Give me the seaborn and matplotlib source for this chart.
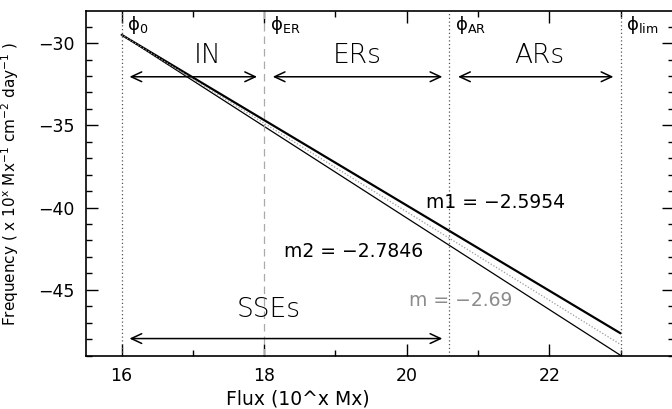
import numpy as np
import pandas as pd
import matplotlib
matplotlib.use('Agg')
import matplotlib.pyplot as plt
import seaborn as sns
import matplotlib.ticker as ticker

sns.set_style('ticks')
plt.rcParams['font.family'] = ['DejaVu Sans']
plt.rcParams['mathtext.default'] = 'regular'
for key in ['text.color', 'axes.labelcolor', 'xtick.color', 'ytick.color', 'axes.edgecolor']:
    plt.rcParams[key] = 'black'

# fitted lines, read at both ends (x = phi_0 and x = phi_lim)
flux_ends = [16.0, 23.0]
freq_m1 = [-29.5, -47.65]   # thick, m1
freq_m2 = [-29.5, -48.99]   # thin, m2
freq_m = [-29.5, -48.33]    # grey dotted, m

# flux limits
phi_names = [r'$\phi_0$', r'$\phi_{ER}$', r'$\phi_{AR}$', r'$\phi_{lim}$']
phi_vals = [16.0, 18.0, 20.6, 23.0]

# ranges shown with arrows
range_names = ['IN', 'ERs', 'ARs', 'SSEs']
range_lo = [16.11, 18.12, 20.72, 16.11]
range_hi = [17.9, 20.5, 22.9, 20.5]
range_y = [-32.05, -32.05, -32.05, -47.97]
label_x = [17.2, 19.3, 21.86, 18.06]
label_y = [-30.75, -30.75, -30.75, -46.2]

slope_texts = ['m1 = \u22122.5954', 'm2 = \u22122.7846', 'm = \u22122.69']
slope_x = [21.25, 19.26, 20.76]
slope_y = [-39.7, -42.67, -45.65]
slope_colors = ['black', 'black', '#8c8c8c']

fig = plt.figure(figsize=(6.72, 4.09), dpi=100)
ax = fig.add_axes([86 / 672, 1 - 355.5 / 409, 588 / 672, 344.5 / 409])

sns.lineplot(x=flux_ends, y=freq_m1, ax=ax, color='black', linewidth=1.6)
sns.lineplot(x=flux_ends, y=freq_m2, ax=ax, color='black', linewidth=0.9)
sns.lineplot(x=flux_ends, y=freq_m, ax=ax, color='#9a9a9a', linewidth=0.9, linestyle=(0, (1, 1.5)))

for i, v in enumerate(phi_vals):
    if i == 1:
        ax.axvline(v, color='#aaaaaa', linestyle=(0, (6, 4)), linewidth=0.9)
    else:
        ax.axvline(v, color='#555555', linestyle=(0, (1, 2)), linewidth=0.9)
    ax.text(v + 0.08, -28.25, phi_names[i], fontsize=13, ha='left', va='top')

for i in range(len(range_names)):
    ax.annotate('', xy=(range_hi[i], range_y[i]), xytext=(range_lo[i], range_y[i]),
                arrowprops=dict(arrowstyle='<->,head_length=0.75,head_width=0.35',
                                color='black', lw=1.1, shrinkA=0, shrinkB=0))
    ax.text(label_x[i], label_y[i], range_names[i], fontsize=19, ha='center', va='center',
            color='black', fontweight='light')

for i in range(len(slope_texts)):
    ax.text(slope_x[i], slope_y[i], slope_texts[i], fontsize=13.5, ha='center', va='center',
            color=slope_colors[i])

ax.set_xlim(15.5, 23.75)
ax.set_ylim(-49.0, -28.05)
ax.xaxis.set_major_locator(ticker.MultipleLocator(2))
ax.xaxis.set_minor_locator(ticker.MultipleLocator(1))
ax.yaxis.set_major_locator(ticker.MultipleLocator(5))
ax.yaxis.set_minor_locator(ticker.MultipleLocator(1))
ax.tick_params(which='both', direction='in', top=True, right=True, labelsize=12.5,
               width=1, color='black')
ax.tick_params(which='major', length=8.5, pad=8)
ax.tick_params(which='minor', length=4.3)
for s in ax.spines.values():
    s.set_linewidth(1.2)
    s.set_color('black')

ax.set_xlabel('Flux (10^x Mx)', fontsize=13.5)
ax.set_ylabel(r'Frequency ( x 10$^{x}$ Mx$^{-1}$ cm$^{-2}$ day$^{-1}$ )', fontsize=11)
ax.xaxis.set_label_coords(0.36, -0.1)
ax.yaxis.set_label_coords(-0.11, 0.5)

fig.savefig('out.png', dpi=100)
